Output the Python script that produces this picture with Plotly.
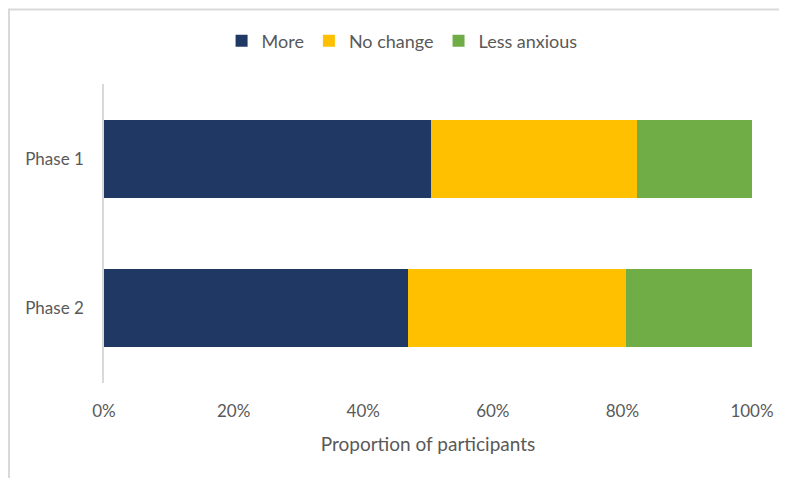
import plotly.graph_objects as go

categories = ["Phase 1", "Phase 2"]
series_names = ["More", "No change", "Less anxious"]
more = [0.505, 0.469]
no_change = [0.317, 0.336]
less_anxious = [0.178, 0.195]
colors = ["#203864", "#FFC000", "#70AD47"]
tick_vals = [0, 0.2, 0.4, 0.6, 0.8, 1.0]
tick_text = ["0%", "20%", "40%", "60%", "80%", "100%"]

fig = go.Figure()
for name, vals, c in zip(series_names, [more, no_change, less_anxious], colors):
    fig.add_trace(go.Bar(
        y=categories, x=vals, name=name, orientation="h",
        marker=dict(color=c, line=dict(width=0)),
    ))

# page body has an 8px margin; figure is sized/offset so the plot area sits at
# screen x 104..752, y 84..383
W, H = 779, 470
L, T, R, B = 96, 76, 35, 95
PW, PH = W - L - R, H - T - B

font_family = "Lato, 'Open Sans', sans-serif"
fig.update_layout(
    barmode="stack",
    bargap=0.48,
    width=W, height=H,
    margin=dict(l=L, r=R, t=T, b=B, autoexpand=False),
    plot_bgcolor="white", paper_bgcolor="white",
    font=dict(family=font_family, color="#595959", size=17),
    showlegend=True,
    legend=dict(orientation="h", x=0.46, xanchor="center", y=(383 - 41) / PH, yanchor="middle",
                font=dict(size=18, color="#595959"), traceorder="normal",
                bgcolor="rgba(0,0,0,0)",
                itemwidth=30, itemsizing="constant"),
    xaxis=dict(range=[0, 1], tickvals=tick_vals, ticktext=tick_text,
               showgrid=False, zeroline=False, showline=False, automargin=False,
               tickfont=dict(size=17, color="#595959"),
               title=dict(text="Proportion of participants", font=dict(size=19, color="#595959"), standoff=17),
               ticks="outside", ticklen=13, tickcolor="white"),
    yaxis=dict(autorange="reversed", showgrid=False, zeroline=False, automargin=False,
               showline=True, linecolor="#d9d9d9", linewidth=1.5,
               ticks="outside", ticklen=15, tickcolor="white",
               tickfont=dict(size=17, color="#595959")),
    shapes=[dict(type="rect", xref="paper", yref="paper",
                 x0=(9 - 104) / PW, x1=(800 - 104) / PW,
                 y0=(383 - 490) / PH, y1=(383 - 9.5) / PH,
                 line=dict(color="#d9d9d9", width=2), fillcolor="rgba(0,0,0,0)", layer="below")],
)

fig.write_html("out.html")
